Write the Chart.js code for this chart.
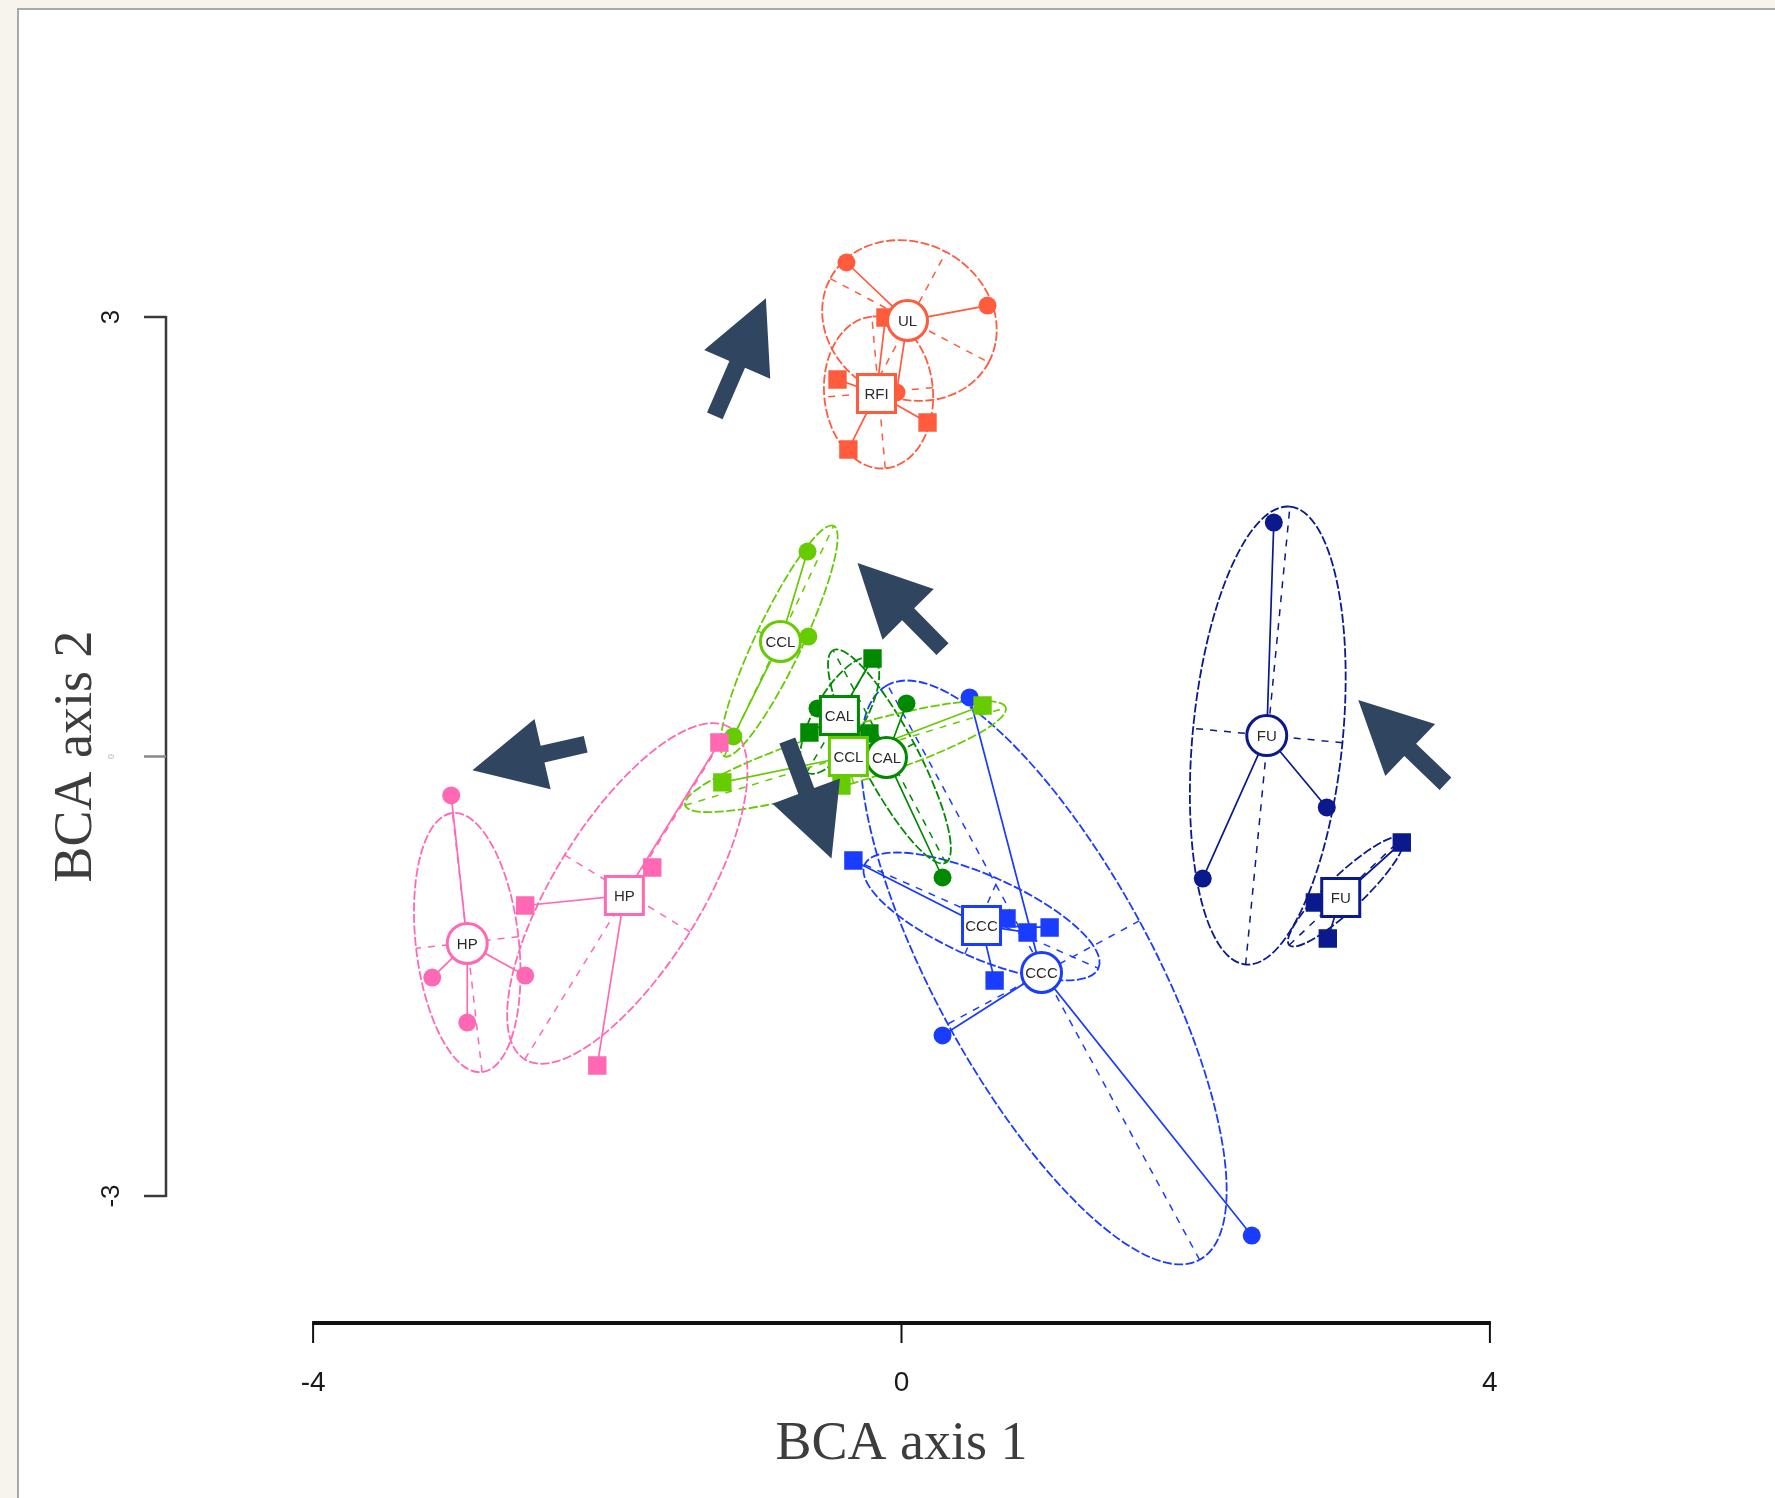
<!DOCTYPE html>
<html>
<head>
<meta charset="utf-8">
<script src="https://cdn.jsdelivr.net/npm/chart.js@4.4.1/dist/chart.umd.min.js"></script>
<style>
  html, body { margin: 0; padding: 0; background: #f7f4ee; }
  body { width: 1775px; height: 1498px; position: relative; overflow: hidden; }
  #panel { position: absolute; left: 17px; top: 8px; right: -10px; bottom: -10px;
           background: #fff; border: 2px solid #a9a9a9; }
  #chart { position: absolute; left: 0; top: 0; }
</style>
</head>
<body>
<div id="panel"></div>
<canvas id="chart" width="1775" height="1498"></canvas>
<script>
// points of each class (BCA axis 1, BCA axis 2)
const cccCirclePts = [[0.463, 0.403], [0.279, -1.904], [2.381, -3.270]];
const cccSquarePts = [[-0.327, -0.710], [0.714, -1.106], [0.857, -1.201], [1.007, -1.167], [0.633, -1.529]];
const fuCirclePts = [[2.531, 1.597], [2.891, -0.348], [2.048, -0.833]];
const fuSquarePts = [[3.401, -0.587], [2.810, -0.997], [2.898, -1.242]];
const calCirclePts = [[0.034, 0.362], [0.279, -0.826], [-0.571, 0.328]];
const calSquarePts = [[-0.197, 0.669], [-0.626, 0.164], [-0.218, 0.157]];
const cclSquarePts = [[0.551, 0.348], [-1.218, -0.177], [-0.408, -0.198]];
const cclCirclePts = [[-0.639, 1.399], [-0.633, 0.819], [-1.143, 0.137]];
const hpSquarePts = [[-1.238, 0.096], [-1.694, -0.758], [-2.558, -1.017], [-2.068, -2.109]];
const hpCirclePts = [[-3.061, -0.266], [-3.190, -1.509], [-2.558, -1.495], [-2.952, -1.816]];
const rfiSquarePts = [[-0.109, 2.997], [-0.435, 2.573], [0.177, 2.280], [-0.361, 2.096]];
const ulCirclePts = [[-0.374, 3.372], [0.585, 3.078], [-0.034, 2.485]];

const groupPoints = [cccCirclePts, cccSquarePts, fuCirclePts, fuSquarePts, calCirclePts, calSquarePts,
                     cclSquarePts, cclCirclePts, hpSquarePts, hpCirclePts, rfiSquarePts, ulCirclePts];
const groupLabels = ['CCC', 'CCC', 'FU', 'FU', 'CAL', 'CAL', 'CCL', 'CCL', 'HP', 'HP', 'RFI', 'UL'];
const groupMarkers = ['circle', 'rect', 'circle', 'rect', 'circle', 'rect', 'rect', 'circle', 'rect', 'circle', 'rect', 'circle'];
const groupCenters = [[0.952, -1.474], [0.544, -1.154], [2.483, 0.143], [2.986, -0.962], [-0.102, -0.007], [-0.422, 0.280],
                      [-0.361, 0.0], [-0.823, 0.785], [-1.884, -0.949], [-2.952, -1.276], [-0.170, 2.478], [0.041, 2.976]];
// ellipse: centre x, centre y, half major, half minor, angle (deg)
const groupEllipses = [[0.966, -1.474, 2.23, 0.74, 118.4], [0.544, -1.092, 0.87, 0.28, -24], [2.490, 0.143, 1.57, 0.51, 84.5],
                       [3.020, -0.922, 0.53, 0.12, 43.5], [-0.082, 0.0, 0.82, 0.19, 117.8], [-0.42, 0.28, 0.45, 0.17, 60],
                       [-0.381, 0.0, 1.14, 0.19, 17], [-0.833, 0.788, 0.87, 0.16, 64.7], [-1.864, -0.935, 1.33, 0.5, 58.4],
                       [-2.952, -1.270, 0.89, 0.35, 96.5], [-0.156, 2.485, 0.52, 0.37, 95], [0.054, 2.976, 0.61, 0.53, -28]];

// arrows overlaid on the plot
const arrowTails = [[-1.269, 2.325], [0.279, 0.733], [-2.147, 0.084], [-0.776, 0.109], [3.698, -0.186]];
const arrowTips = [[-0.922, 3.128], [-0.299, 1.320], [-2.917, -0.094], [-0.476, -0.696], [3.105, 0.385]];

const xTicks = [-4, 0, 4];
const xTickLabels = ['-4', '0', '4'];
const yTicks = [-3, 0, 3];
const yTickLabels = ['-3', '0', '3'];

const BLUE = '#1a3cff', NAVY = '#0a1a8c', DKGREEN = '#008a00', LTGREEN = '#66cc00',
      PINK = '#ff69b4', RED = '#ff5b3d';
const groupColors = [BLUE, BLUE, NAVY, NAVY, DKGREEN, DKGREEN, LTGREEN, LTGREEN, PINK, PINK, RED, RED];

const xy = p => ({x: p[0], y: p[1]});

let datasets = [];
groupPoints.forEach((pts, i) => {
  const c = xy(groupCenters[i]);
  const star = [];
  pts.forEach(p => { star.push(c, xy(p)); });
  datasets.push({
    data: star, showLine: true, pointRadius: 0, borderColor: groupColors[i],
    borderWidth: 1.7, tension: 0
  });
  datasets.push({
    data: pts.map(xy), showLine: false, pointStyle: groupMarkers[i],
    pointRadius: groupMarkers[i] === 'rect' ? 13 : 9,
    backgroundColor: groupColors[i], borderWidth: 0
  });
});
// chart.js paints dataset 0 last (on top)
datasets = datasets.reverse();

function arrow(ctx, tx, ty, px, py) {
  const len = Math.hypot(px - tx, py - ty);
  const ux = (px - tx) / len, uy = (py - ty) / len;
  const nx = -uy, ny = ux;
  const H = 72, W = 36, s = 8.5;
  const bx = px - ux * H, by = py - uy * H;
  ctx.beginPath();
  ctx.moveTo(tx + nx * s, ty + ny * s);
  ctx.lineTo(bx + nx * s, by + ny * s);
  ctx.lineTo(bx + nx * W, by + ny * W);
  ctx.lineTo(px, py);
  ctx.lineTo(bx - nx * W, by - ny * W);
  ctx.lineTo(bx - nx * s, by - ny * s);
  ctx.lineTo(tx - nx * s, ty - ny * s);
  ctx.closePath();
  ctx.fill();
}

const overlay = {
  id: 'overlay',
  beforeDatasetsDraw(chart) {
    const ctx = chart.ctx, xs = chart.scales.x, ys = chart.scales.y;
    const kx = xs.getPixelForValue(1) - xs.getPixelForValue(0);
    const ky = ys.getPixelForValue(0) - ys.getPixelForValue(1);
    groupEllipses.forEach((e, i) => {
      const cx = xs.getPixelForValue(e[0]), cy = ys.getPixelForValue(e[1]);
      const t = e[4] * Math.PI / 180;
      ctx.save();
      ctx.strokeStyle = groupColors[i];
      ctx.save();
      ctx.translate(cx, cy); ctx.scale(kx, -ky); ctx.rotate(t);
      ctx.beginPath();
      ctx.ellipse(0, 0, e[2], e[3], 0, 0, Math.PI * 2);
      ctx.restore();
      ctx.lineWidth = 1.8; ctx.setLineDash([9, 2.5]); ctx.stroke();
      ctx.save();
      ctx.translate(cx, cy); ctx.scale(kx, -ky); ctx.rotate(t);
      ctx.beginPath();
      ctx.moveTo(-e[2], 0); ctx.lineTo(e[2], 0);
      ctx.moveTo(0, -e[3]); ctx.lineTo(0, e[3]);
      ctx.restore();
      ctx.lineWidth = 1.5; ctx.setLineDash([7, 7]); ctx.stroke();
      ctx.restore();
    });
  },
  afterDatasetsDraw(chart) {
    const ctx = chart.ctx, xs = chart.scales.x, ys = chart.scales.y;
    groupCenters.forEach((c, i) => {
      const x = xs.getPixelForValue(c[0]), y = ys.getPixelForValue(c[1]);
      ctx.save();
      ctx.fillStyle = '#fff'; ctx.strokeStyle = groupColors[i]; ctx.lineWidth = 3;
      ctx.beginPath();
      if (groupMarkers[i] === 'circle') ctx.arc(x, y, 20, 0, Math.PI * 2);
      else ctx.rect(x - 19, y - 19, 38, 38);
      ctx.fill(); ctx.stroke();
      ctx.fillStyle = '#2a2a2a';
      ctx.font = '15px "Liberation Sans", Arial, sans-serif';
      ctx.textAlign = 'center'; ctx.textBaseline = 'middle';
      ctx.fillText(groupLabels[i], x, y + 1);
      ctx.restore();
    });
    ctx.save();
    ctx.fillStyle = '#2f4560';
    arrowTails.forEach((t, i) => {
      arrow(ctx, xs.getPixelForValue(t[0]), ys.getPixelForValue(t[1]),
            xs.getPixelForValue(arrowTips[i][0]), ys.getPixelForValue(arrowTips[i][1]));
    });
    ctx.restore();
  },
  afterDraw(chart) {
    const ctx = chart.ctx, xs = chart.scales.x, ys = chart.scales.y;
    const axisY = ys.getPixelForValue(-3.867);
    const axisX = xs.getPixelForValue(-5.0);
    ctx.save();
    // x axis
    ctx.strokeStyle = '#111'; ctx.lineWidth = 4;
    ctx.beginPath();
    ctx.moveTo(xs.getPixelForValue(xTicks[0]) - 1, axisY);
    ctx.lineTo(xs.getPixelForValue(xTicks[xTicks.length - 1]) + 1, axisY);
    ctx.stroke();
    ctx.lineWidth = 2;
    ctx.fillStyle = '#1a1a1a';
    ctx.font = '28px "Liberation Sans Narrow", "Liberation Sans", Arial, sans-serif';
    ctx.textAlign = 'center'; ctx.textBaseline = 'middle';
    xTicks.forEach((v, i) => {
      const x = xs.getPixelForValue(v);
      ctx.beginPath(); ctx.moveTo(x, axisY); ctx.lineTo(x, axisY + 20); ctx.stroke();
      ctx.fillText(xTickLabels[i], x, axisY + 60);
    });
    // y axis
    ctx.strokeStyle = '#3a3a3a'; ctx.lineWidth = 2.5;
    ctx.beginPath();
    ctx.moveTo(axisX, ys.getPixelForValue(yTicks[0]) + 1);
    ctx.lineTo(axisX, ys.getPixelForValue(yTicks[yTicks.length - 1]) - 1);
    ctx.stroke();
    yTicks.forEach((v, i) => {
      const y = ys.getPixelForValue(v);
      ctx.strokeStyle = v === 0 ? '#888' : '#3a3a3a';
      ctx.lineWidth = 2.5;
      ctx.beginPath(); ctx.moveTo(axisX, y); ctx.lineTo(axisX - 22, y); ctx.stroke();
      ctx.save();
      ctx.translate(axisX - 54, y); ctx.rotate(-Math.PI / 2);
      ctx.fillStyle = v === 0 ? '#bbb' : '#1a1a1a';
      ctx.font = v === 0 ? '9px "Liberation Sans", Arial, sans-serif'
                         : '26px "Liberation Sans Narrow", "Liberation Sans", Arial, sans-serif';
      ctx.textAlign = 'center'; ctx.textBaseline = 'middle';
      ctx.fillText(yTickLabels[i], 0, 0);
      ctx.restore();
    });
    // titles
    ctx.fillStyle = '#3d3d3d';
    ctx.font = '54px "Liberation Serif", "Times New Roman", serif';
    ctx.textAlign = 'center'; ctx.textBaseline = 'middle';
    ctx.fillText('BCA axis 1', xs.getPixelForValue(0), axisY + 122);
    ctx.save();
    ctx.translate(axisX - 89, ys.getPixelForValue(0)); ctx.rotate(-Math.PI / 2);
    ctx.fillText('BCA axis 2', 0, 0);
    ctx.restore();
    ctx.restore();
  }
};

new Chart(document.getElementById('chart').getContext('2d'), {
  type: 'scatter',
  data: { datasets: datasets },
  options: {
    responsive: false,
    animation: false,
    devicePixelRatio: 1,
    layout: { padding: { left: 166, right: 138, top: 170.5, bottom: 155.5 } },
    scales: {
      x: { type: 'linear', min: -5, max: 5, display: false },
      y: { type: 'linear', min: -4, max: 4, display: false }
    },
    plugins: { legend: { display: false }, tooltip: { enabled: false } }
  },
  plugins: [overlay]
});
</script>
</body>
</html>
